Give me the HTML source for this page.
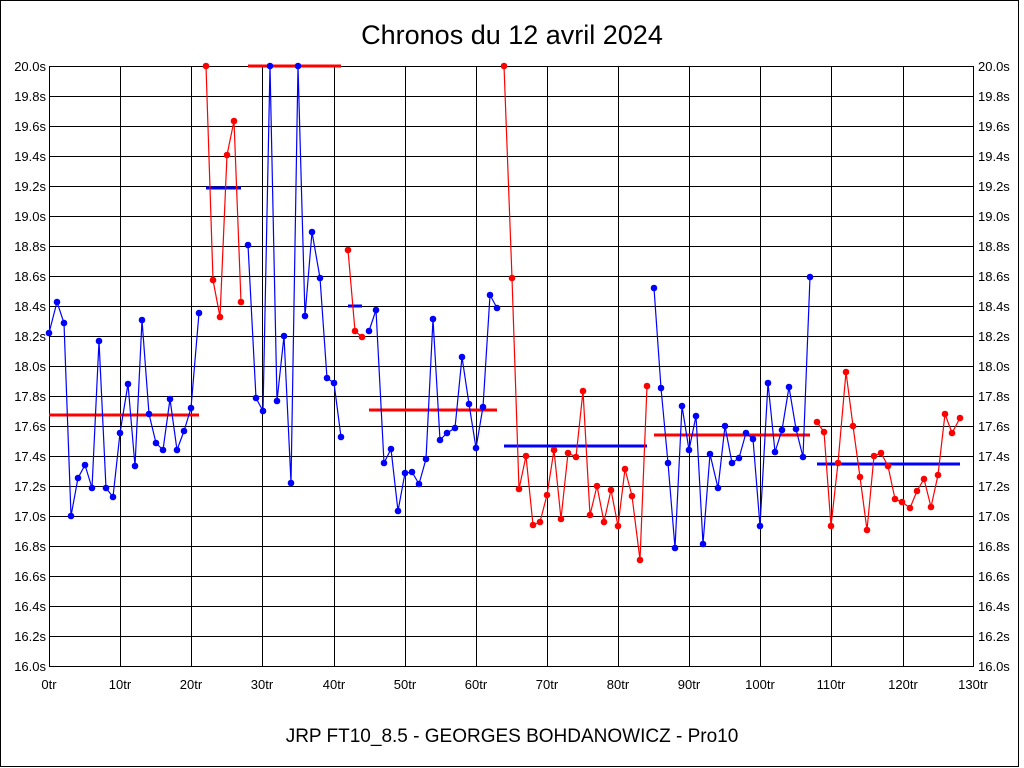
<!DOCTYPE html>
<html><head><meta charset="utf-8"><style>
html,body{margin:0;padding:0;background:#fff;}
svg{display:block;font-family:"Liberation Sans",sans-serif;}
</style></head><body>
<svg width="1024" height="768" viewBox="0 0 1024 768" xmlns="http://www.w3.org/2000/svg">
<rect x="0.5" y="0.5" width="1018" height="766" fill="none" stroke="#000"/>
<text x="512" y="44" font-size="27" text-anchor="middle">Chronos du 12 avril 2024</text>
<text x="512" y="742" font-size="19" text-anchor="middle">JRP FT10_8.5 - GEORGES BOHDANOWICZ - Pro10</text>
<g stroke="#000" stroke-width="1" shape-rendering="crispEdges">
<path d="M49.5 66.5H973.5M49.5 96.5H973.5M49.5 126.5H973.5M49.5 156.5H973.5M49.5 186.5H973.5M49.5 216.5H973.5M49.5 246.5H973.5M49.5 276.5H973.5M49.5 306.5H973.5M49.5 336.5H973.5M49.5 366.5H973.5M49.5 396.5H973.5M49.5 426.5H973.5M49.5 456.5H973.5M49.5 486.5H973.5M49.5 516.5H973.5M49.5 546.5H973.5M49.5 576.5H973.5M49.5 606.5H973.5M49.5 636.5H973.5M49.5 666.5H973.5"/>
<path d="M49.5 66V667M120.5 66V667M191.5 66V667M262.5 66V667M334.5 66V667M405.5 66V667M476.5 66V667M547.5 66V667M618.5 66V667M689.5 66V667M760.5 66V667M831.5 66V667M903.5 66V667M973.5 66V667"/>
</g>
<g font-size="13" text-anchor="end">
<text x="46" y="71">20.0s</text><text x="46" y="101">19.8s</text><text x="46" y="131">19.6s</text><text x="46" y="161">19.4s</text><text x="46" y="191">19.2s</text><text x="46" y="221">19.0s</text><text x="46" y="251">18.8s</text><text x="46" y="281">18.6s</text><text x="46" y="311">18.4s</text><text x="46" y="341">18.2s</text><text x="46" y="371">18.0s</text><text x="46" y="401">17.8s</text><text x="46" y="431">17.6s</text><text x="46" y="461">17.4s</text><text x="46" y="491">17.2s</text><text x="46" y="521">17.0s</text><text x="46" y="551">16.8s</text><text x="46" y="581">16.6s</text><text x="46" y="611">16.4s</text><text x="46" y="641">16.2s</text><text x="46" y="671">16.0s</text>
</g>
<g font-size="13" text-anchor="start">
<text x="978" y="71">20.0s</text><text x="978" y="101">19.8s</text><text x="978" y="131">19.6s</text><text x="978" y="161">19.4s</text><text x="978" y="191">19.2s</text><text x="978" y="221">19.0s</text><text x="978" y="251">18.8s</text><text x="978" y="281">18.6s</text><text x="978" y="311">18.4s</text><text x="978" y="341">18.2s</text><text x="978" y="371">18.0s</text><text x="978" y="401">17.8s</text><text x="978" y="431">17.6s</text><text x="978" y="461">17.4s</text><text x="978" y="491">17.2s</text><text x="978" y="521">17.0s</text><text x="978" y="551">16.8s</text><text x="978" y="581">16.6s</text><text x="978" y="611">16.4s</text><text x="978" y="641">16.2s</text><text x="978" y="671">16.0s</text>
</g>
<g font-size="13" text-anchor="middle">
<text x="49" y="689">0tr</text><text x="120" y="689">10tr</text><text x="191" y="689">20tr</text><text x="262" y="689">30tr</text><text x="334" y="689">40tr</text><text x="405" y="689">50tr</text><text x="476" y="689">60tr</text><text x="547" y="689">70tr</text><text x="618" y="689">80tr</text><text x="689" y="689">90tr</text><text x="760" y="689">100tr</text><text x="831" y="689">110tr</text><text x="903" y="689">120tr</text><text x="973" y="689">130tr</text>
</g>
<g stroke-width="3">
<path d="M49 415H199M248 66H341M369 410H497M654 435H810" stroke="#f00"/>
<path d="M206 188H241M348 306H362M504 446H647M817 464H960" stroke="#00f"/>
</g>
<g fill="none" stroke-width="1.2">
<polyline stroke="#00f" points="49,333 57,302 64,323 71,516 78,478 85,465 92,488 99,341 106,488 113,497 120,433 128,384 135,466 142,320 149,414 156,443 163,450 170,399 177,450 184,431 191,408 199,313"/>
<polyline stroke="#f00" points="206,66 213,280 220,317 227,155 234,121 241,302"/>
<polyline stroke="#00f" points="248,245 256,398 263,411 270,66 277,401 284,336 291,483 298,66 305,316 312,232 320,278 327,378 334,383 341,437"/>
<polyline stroke="#f00" points="348,250 355,331 362,337"/>
<polyline stroke="#00f" points="369,331 376,310 384,463 391,449 398,511 405,473 412,472 419,484 426,459 433,319 440,440 447,433 455,428 462,357 469,404 476,448 483,407 490,295 497,308"/>
<polyline stroke="#f00" points="504,66 512,278 519,489 526,456 533,525 540,522 547,495 554,450 561,519 568,453 576,457 583,391 590,515 597,486 604,522 611,490 618,526 625,469 632,496 640,560 647,386"/>
<polyline stroke="#00f" points="654,288 661,388 668,463 675,548 682,406 689,450 696,416 703,544 710,454 718,488 725,426 732,463 739,458 746,433 753,439 760,526 768,383 775,452 782,430 789,387 796,429 803,457 810,277"/>
<polyline stroke="#f00" points="817,422 824,432 831,526 838,463 846,372 853,426 860,477 867,530 874,456 881,453 888,466 895,499 902,502 910,508 917,491 924,479 931,507 938,475 945,414 952,433 960,418"/>
</g>
<g id="dots"></g>
</svg>
<script>
var polys=document.querySelectorAll('polyline'),g=document.getElementById('dots'),ns='http://www.w3.org/2000/svg';
polys.forEach(function(p){var c=p.getAttribute('stroke');p.getAttribute('points').split(' ').forEach(function(s){var a=s.split(',');var e=document.createElementNS(ns,'circle');e.setAttribute('cx',a[0]);e.setAttribute('cy',a[1]);e.setAttribute('r','3.3');e.setAttribute('fill',c);g.appendChild(e);});});
</script>
</body></html>
